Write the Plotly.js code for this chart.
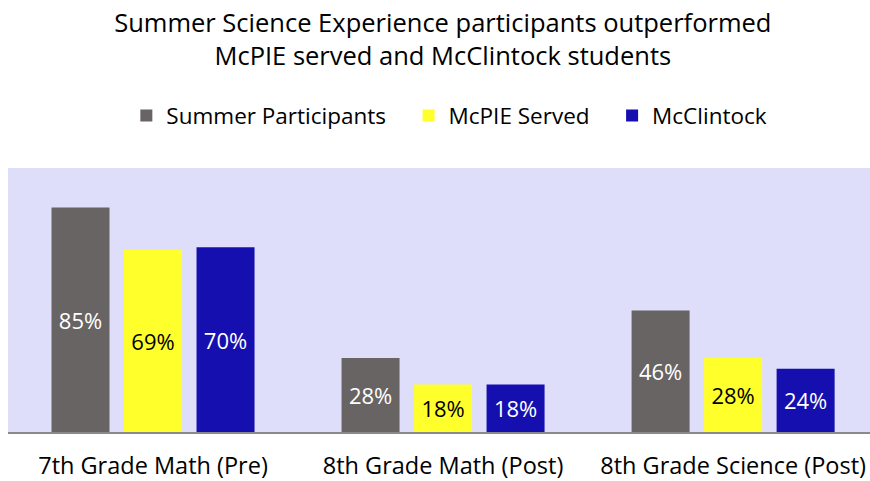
<!DOCTYPE html>
<html>
<head>
<meta charset="utf-8">
<script src="https://cdn.plot.ly/plotly-3.0.1.min.js"></script>
<style>html,body{margin:0;padding:0;background:#fff;}#chart{width:870px;height:481px;}</style>
</head>
<body>
<div id="chart"></div>
<script>
const categories = ["7th Grade Math (Pre)", "8th Grade Math (Post)", "8th Grade Science (Post)"];
const seriesNames = ["Summer Participants", "McPIE Served", "McClintock"];
const summerParticipants = [85, 28, 46];
const mcpieServed = [69, 18, 28];
const mcclintock = [70, 18, 24];
const seriesValues = [summerParticipants, mcpieServed, mcclintock];
const seriesColors = ["#686463", "#FFFF2B", "#150FAF"];
const textColors = ["#ffffff", "#000000", "#ffffff"];
const FONT = "'Open Sans', Lato, sans-serif";
const PAD = "\u00a0\u00a0\u00a0";

const traces = seriesValues.map((vals, i) => ({
  type: "bar",
  name: seriesNames[i] + (i < seriesNames.length - 1 ? PAD : ""),
  x: categories,
  y: vals,
  text: vals.map(v => v + "%"),
  textposition: "inside",
  insidetextanchor: "middle",
  textangle: 0,
  textfont: {family: FONT, size: 22, color: textColors[i]},
  marker: {color: seriesColors[i], line: {width: 0}},
  hoverinfo: "none"
}));

const layout = {
  width: 870, height: 481,
  margin: {l: 8, r: 0, t: 168, b: 49},
  paper_bgcolor: "#ffffff",
  plot_bgcolor: "#DEDDFA",
  font: {family: FONT, color: "#000", size: 22},
  title: {
    text: "Summer Science Experience participants outperformed<br>McPIE served and McClintock students",
    font: {family: FONT, size: 25.5, color: "#000"},
    xref: "container", x: 0.509, xanchor: "center",
    yref: "container", y: 0.933, yanchor: "top"
  },
  showlegend: true,
  legend: {
    orientation: "h", x: 0.512, xanchor: "center", y: 1.197, yanchor: "middle",
    font: {family: FONT, size: 22.5, color: "#000"},
    itemwidth: 30, traceorder: "normal"
  },
  barmode: "group",
  bargap: 0.25,
  bargroupgap: 0.2,
  xaxis: {
    range: [-0.5, 2.472],
    showgrid: false, zeroline: false,
    showline: true, linecolor: "#8a8a8a", linewidth: 2,
    ticks: "outside", ticklen: 12, tickcolor: "rgba(0,0,0,0)",
    tickfont: {family: FONT, size: 23.5, color: "#000"},
    fixedrange: true
  },
  yaxis: {
    range: [0, 100],
    showgrid: false, zeroline: false, showline: false,
    showticklabels: false, ticks: "",
    fixedrange: true
  }
};

Plotly.newPlot("chart", traces, layout, {staticPlot: true, displayModeBar: false});
</script>
</body>
</html>
